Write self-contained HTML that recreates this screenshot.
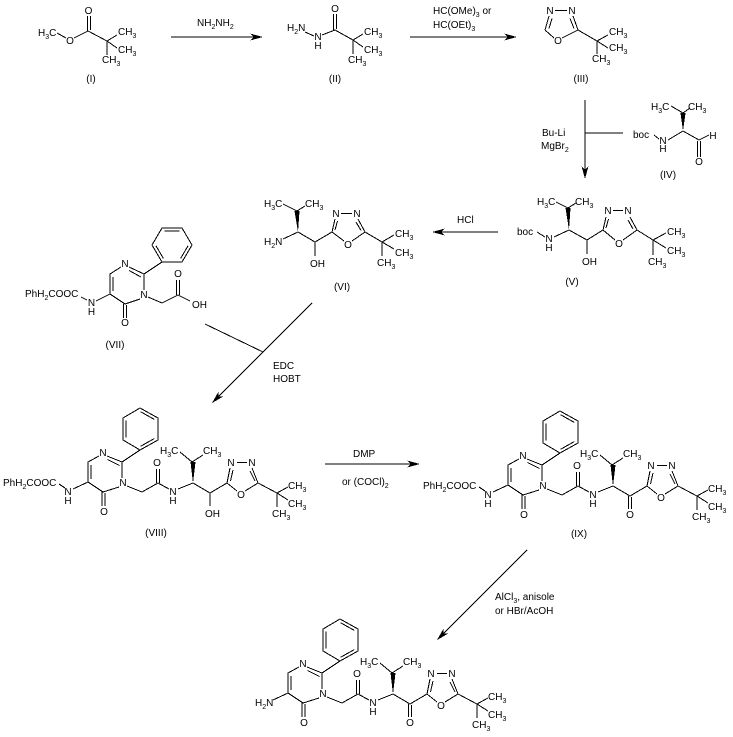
<!DOCTYPE html>
<html><head><meta charset="utf-8">
<style>
html,body{margin:0;padding:0;background:#fff;width:733px;height:737px;overflow:hidden;}
svg{display:block;}
svg path, svg polygon{shape-rendering:crispEdges;}
text{font-family:"Liberation Sans",Arial,sans-serif;font-size:10px;fill:#000;}
.m{text-anchor:middle;}
.e{text-anchor:end;}
.s{font-size:7px;}
</style></head><body>
<svg width="733" height="737" viewBox="0 0 733 737" xmlns="http://www.w3.org/2000/svg">

<!-- ===== Compound I ===== -->
<g fill="none" stroke="#000" stroke-width="1">
<path d="M57,33 L66,38 M74,38 L88,31 L107,41 L117,35 M107,41 L117,48 M107,41 L107,55 M87.5,31 L87.5,16 M90.5,30 L90.5,16"/>
</g>
<text x="38" y="36">H<tspan class="s" dy="3">3</tspan><tspan dy="-3">C</tspan></text>
<text x="70" y="44" class="m">O</text>
<text x="88.5" y="14" class="m">O</text>
<text x="118" y="35">CH<tspan class="s" dy="3">3</tspan></text>
<text x="118" y="53">CH<tspan class="s" dy="3">3</tspan></text>
<text x="102" y="63">CH<tspan class="s" dy="3">3</tspan></text>
<text x="91" y="82" class="m">(I)</text>

<!-- Arrow 1 -->
<path d="M171,37 L255,37" stroke="#000" fill="none"/>
<path d="M0,0 L-13,-3.5 L-9,0 L-13,3.5 Z" transform="translate(263,37)"/>
<text x="197" y="26">NH<tspan class="s" dy="3">2</tspan><tspan dy="-3">NH</tspan><tspan class="s" dy="3">2</tspan></text>

<!-- ===== Compound II ===== -->
<g fill="none" stroke="#000" stroke-width="1">
<path d="M305,32 L314,36 M322,35 L335,30 L353,40 L363,34 M353,40 L363,47 M353,40 L353,54 M333.5,30 L333.5,14 M336.5,29 L336.5,14"/>
</g>
<text x="287" y="31">H<tspan class="s" dy="3">2</tspan><tspan dy="-3">N</tspan></text>
<text x="318" y="40" class="m">N</text>
<text x="318" y="49" class="m">H</text>
<text x="335" y="12" class="m">O</text>
<text x="364" y="35">CH<tspan class="s" dy="3">3</tspan></text>
<text x="364" y="53">CH<tspan class="s" dy="3">3</tspan></text>
<text x="348" y="63">CH<tspan class="s" dy="3">3</tspan></text>
<text x="335" y="82" class="m">(II)</text>

<!-- Arrow 2 -->
<path d="M410,37 L509,37" stroke="#000" fill="none"/>
<path d="M0,0 L-13,-3.5 L-9,0 L-13,3.5 Z" transform="translate(517,37)"/>
<text x="433" y="14">HC(OMe)<tspan class="s" dy="3">3</tspan><tspan dy="-3"> or</tspan></text>
<text x="433" y="28">HC(OEt)<tspan class="s" dy="3">3</tspan></text>

<!-- ===== Compound III ===== -->
<g fill="none" stroke="#000" stroke-width="1">
<path d="M555,10.5 L567,10.5 M549,16 L545,30 M552,18.5 L549,28.5 M573,16 L578,30 M570,18.5 L574,28.5 M545,30 L554,38 M562,38 L578,30 L597,41 L608,35 M597,41 L608,48 M597,41 L597,54"/>
</g>
<text x="550" y="14" class="m">N</text>
<text x="572" y="14" class="m">N</text>
<text x="558" y="44" class="m">O</text>
<text x="609" y="35">CH<tspan class="s" dy="3">3</tspan></text>
<text x="609" y="51">CH<tspan class="s" dy="3">3</tspan></text>
<text x="592" y="62">CH<tspan class="s" dy="3">3</tspan></text>
<text x="581" y="82" class="m">(III)</text>

<!-- Vertical arrow III -> V -->
<path d="M585,100 L585,171 M585,133 L623,133" stroke="#000" fill="none"/>
<path d="M0,0 L-13,-3.5 L-9,0 L-13,3.5 Z" transform="translate(585,179) rotate(90)"/>
<text x="542" y="136">Bu-Li</text>
<text x="541" y="149">MgBr<tspan class="s" dy="3">2</tspan></text>

<!-- ===== Compound IV ===== -->
<g fill="none" stroke="#000" stroke-width="1">
<path d="M671,106 L683,113 L690,108 M654,135 L659,139 M668,140 L683,131 L699,140 L709,135 M697.5,141 L697.5,157 M700.5,141 L700.5,157"/>
</g>
<polygon points="680.5,113 685.5,113 683,131" fill="#000"/>
<text x="651" y="110">H<tspan class="s" dy="3">3</tspan><tspan dy="-3">C</tspan></text>
<text x="688" y="110">CH<tspan class="s" dy="3">3</tspan></text>
<text x="633" y="138">boc</text>
<text x="663" y="144" class="m">N</text>
<text x="663" y="152" class="m">H</text>
<text x="713" y="139" class="m">H</text>
<text x="699" y="165" class="m">O</text>
<text x="668" y="178" class="m">(IV)</text>

<!-- ===== Compound V ===== -->
<g fill="none" stroke="#000" stroke-width="1">
<path d="M556,202 L568,208 L576,203 M537,232 L545,237 M554,237 L569,230 L587,240 L603,230 L606,217 M587,240 L587,254 M606,228 L608.5,219 M613,210.5 L623,210.5 M630,217 L637,230 M628,220 L633,229 M603,230 L615,240 M623,240 L637,230 L653,240 L666,233 M653,240 L666,248 M653,240 L653,255"/>
</g>
<polygon points="565.5,208 570.5,208 569,230" fill="#000"/>
<text x="537" y="205">H<tspan class="s" dy="3">3</tspan><tspan dy="-3">C</tspan></text>
<text x="575" y="205">CH<tspan class="s" dy="3">3</tspan></text>
<text x="517" y="235">boc</text>
<text x="549" y="242" class="m">N</text>
<text x="549" y="251" class="m">H</text>
<text x="582" y="265">OH</text>
<text x="608" y="214" class="m">N</text>
<text x="628" y="214" class="m">N</text>
<text x="619" y="247" class="m">O</text>
<text x="667" y="235">CH<tspan class="s" dy="3">3</tspan></text>
<text x="667" y="254">CH<tspan class="s" dy="3">3</tspan></text>
<text x="648" y="265">CH<tspan class="s" dy="3">3</tspan></text>
<text x="572" y="285" class="m">(V)</text>

<!-- HCl arrow -->
<path d="M498,232 L440,232" stroke="#000" fill="none"/>
<path d="M0,0 L-13,-3.5 L-9,0 L-13,3.5 Z" transform="translate(432,232) rotate(180)"/>
<text x="457" y="223">HCl</text>

<!-- ===== Compound VI ===== -->
<g fill="none" stroke="#000" stroke-width="1">
<path d="M283,204 L297,211 L305,206 M283,239 L298,232 L315,242 L332,232 L335,219 M315,242 L315,256 M335,230 L337.5,221 M341,213.5 L352,213.5 M358,219 L365,232 M356,222 L361,230.5 M332,232 L344,241 M352,241 L365,232 L382,242 L394,235 M382,242 L394,249 M382,242 L382,256"/>
</g>
<polygon points="294.5,211 299.5,211 298,232" fill="#000"/>
<text x="264" y="207">H<tspan class="s" dy="3">3</tspan><tspan dy="-3">C</tspan></text>
<text x="305" y="207">CH<tspan class="s" dy="3">3</tspan></text>
<text x="264" y="245">H<tspan class="s" dy="3">2</tspan><tspan dy="-3">N</tspan></text>
<text x="310" y="267">OH</text>
<text x="336" y="217" class="m">N</text>
<text x="357" y="217" class="m">N</text>
<text x="348" y="248" class="m">O</text>
<text x="395" y="237">CH<tspan class="s" dy="3">3</tspan></text>
<text x="395" y="256">CH<tspan class="s" dy="3">3</tspan></text>
<text x="377" y="266">CH<tspan class="s" dy="3">3</tspan></text>
<text x="342" y="290" class="m">(VI)</text>

<!-- ===== Compound VII ===== -->
<g fill="none" stroke="#000" stroke-width="1">
<path d="M81,297 L87,300 M96,301 L110,294 L110,274 L121,267 M129,267 L144,274 L144,290 M140,299 L125,304 L110,294 M113,291 L113,277 M129,270.5 L141,277 M123.5,304 L123.5,318 M126.5,305 L126.5,318 M144,274 L162,262 M148,297 L162,303 L178,295 L190,301 M176.5,295 L176.5,280 M179.5,295 L179.5,280 M163.3,258.3 L155.9,245.7 M164.5,231 L179.5,231 M188.1,245.7 L180.7,258.3"/>
<polygon points="162,262 152,245 162,228 182,228 192,245 182,262"/>
</g>
<text x="25" y="297">PhH<tspan class="s" dy="3">2</tspan><tspan dy="-3">COOC</tspan></text>
<text x="91.5" y="306" class="m">N</text>
<text x="91.5" y="315" class="m">H</text>
<text x="125" y="267" class="m">N</text>
<text x="144" y="298" class="m">N</text>
<text x="125" y="326" class="m">O</text>
<text x="178" y="277" class="m">O</text>
<text x="192" y="308">OH</text>
<text x="115" y="348" class="m">(VII)</text>

<!-- EDC arrow -->
<path d="M312,303 L218,397 M205,324 L263,352" stroke="#000" fill="none"/>
<path d="M0,0 L-13,-3.5 L-9,0 L-13,3.5 Z" transform="translate(212,403) rotate(135)"/>
<text x="273" y="369">EDC</text>
<text x="273" y="382">HOBT</text>

<!-- ===== Compound VIII ===== -->
<g>
<g fill="none" stroke="#000" stroke-width="1">
<path d="M73,489 L88,482 L88,462 L99,456 M107,456 L122,462 L122,478 M119,487 L103,492 L88,482 M91,479 L91,465 M107.5,459.5 L119.5,465.5 M102,492 L102,506 M105,493 L105,506 M122,462 L140,450 M127,486 L142,492 L158,483 L169,489 M156.5,483 L156.5,469 M159.5,483 L159.5,469 M178,489 L193,483 M180,452 L192,462 L203,455 M193,483 L210,493 L227,483 L230,468 M230.5,481 L233,470 M237,462.5 L247,462.5 M252,468 L258,483 M250,471 L255,481 M227,483 L237,491 M245,491 L258,483 L277,493 L288,487 M277,493 L288,500 M277,493 L277,507 M140.7,411.8 L154.3,419.4 M154.3,438.6 L140.7,446.2 M126,437.5 L126,420.5"/>
<polygon points="123,418 140,408 158,418 158,440 140,450 123,440"/>
<path d="M59,484 L65,488 M210,493 L210,506"/>
</g>
<polygon points="190.5,462 195.5,462 193,483" fill="#000"/>
<text x="103" y="456" class="m">N</text>
<text x="123" y="486" class="m">N</text>
<text x="104" y="515" class="m">O</text>
<text x="157" y="466" class="m">O</text>
<text x="173" y="495" class="m">N</text>
<text x="173" y="504" class="m">H</text>
<text x="160" y="454">H<tspan class="s" dy="3">3</tspan><tspan dy="-3">C</tspan></text>
<text x="203" y="454">CH<tspan class="s" dy="3">3</tspan></text>
<text x="231" y="466" class="m">N</text>
<text x="252" y="466" class="m">N</text>
<text x="241" y="498" class="m">O</text>
<text x="288" y="489">CH<tspan class="s" dy="3">3</tspan></text>
<text x="288" y="507">CH<tspan class="s" dy="3">3</tspan></text>
<text x="272" y="517">CH<tspan class="s" dy="3">3</tspan></text>
<text x="3" y="486">PhH<tspan class="s" dy="3">2</tspan><tspan dy="-3">COOC</tspan></text>
<text x="68" y="495" class="m">N</text>
<text x="68" y="504" class="m">H</text>
<text x="205" y="517">OH</text>
<text x="156" y="536" class="m">(VIII)</text>
</g>

<!-- DMP arrow -->
<path d="M325,464 L412,464" stroke="#000" fill="none"/>
<path d="M0,0 L-13,-3.5 L-9,0 L-13,3.5 Z" transform="translate(420,464)"/>
<text x="353" y="457">DMP</text>
<text x="342" y="485">or (COCl)<tspan class="s" dy="3">2</tspan></text>

<!-- ===== Compound IX ===== -->
<g transform="translate(420,3)">
<g fill="none" stroke="#000" stroke-width="1">
<path d="M73,489 L88,482 L88,462 L99,456 M107,456 L122,462 L122,478 M119,487 L103,492 L88,482 M91,479 L91,465 M107.5,459.5 L119.5,465.5 M102,492 L102,506 M105,493 L105,506 M122,462 L140,450 M127,486 L142,492 L158,483 L169,489 M156.5,483 L156.5,469 M159.5,483 L159.5,469 M178,489 L193,483 M180,452 L192,462 L203,455 M193,483 L210,493 L227,483 L230,468 M230.5,481 L233,470 M237,462.5 L247,462.5 M252,468 L258,483 M250,471 L255,481 M227,483 L237,491 M245,491 L258,483 L277,493 L288,487 M277,493 L288,500 M277,493 L277,507 M140.7,411.8 L154.3,419.4 M154.3,438.6 L140.7,446.2 M126,437.5 L126,420.5"/>
<polygon points="123,418 140,408 158,418 158,440 140,450 123,440"/>
<path d="M59,484 L65,488 M208.5,493 L208.5,506 M211.5,494 L211.5,506"/>
</g>
<polygon points="190.5,462 195.5,462 193,483" fill="#000"/>
<text x="103" y="456" class="m">N</text>
<text x="123" y="486" class="m">N</text>
<text x="104" y="515" class="m">O</text>
<text x="157" y="466" class="m">O</text>
<text x="173" y="495" class="m">N</text>
<text x="173" y="504" class="m">H</text>
<text x="160" y="454">H<tspan class="s" dy="3">3</tspan><tspan dy="-3">C</tspan></text>
<text x="203" y="454">CH<tspan class="s" dy="3">3</tspan></text>
<text x="231" y="466" class="m">N</text>
<text x="252" y="466" class="m">N</text>
<text x="241" y="498" class="m">O</text>
<text x="288" y="489">CH<tspan class="s" dy="3">3</tspan></text>
<text x="288" y="507">CH<tspan class="s" dy="3">3</tspan></text>
<text x="272" y="517">CH<tspan class="s" dy="3">3</tspan></text>
<text x="3" y="486">PhH<tspan class="s" dy="3">2</tspan><tspan dy="-3">COOC</tspan></text>
<text x="68" y="495" class="m">N</text>
<text x="68" y="504" class="m">H</text>
<text x="210" y="515" class="m">O</text>
<text x="159" y="534" class="m">(IX)</text>
</g>

<!-- Final arrow -->
<path d="M527,550 L443,634" stroke="#000" fill="none"/>
<path d="M0,0 L-13,-3.5 L-9,0 L-13,3.5 Z" transform="translate(437,640) rotate(135)"/>
<text x="495" y="600">AlCl<tspan class="s" dy="3">3</tspan><tspan dy="-3">, anisole</tspan></text>
<text x="495" y="614">or HBr/AcOH</text>

<!-- ===== Final compound ===== -->
<g transform="translate(200,211)">
<g fill="none" stroke="#000" stroke-width="1">
<path d="M73,489 L88,482 L88,462 L99,456 M107,456 L122,462 L122,478 M119,487 L103,492 L88,482 M91,479 L91,465 M107.5,459.5 L119.5,465.5 M102,492 L102,506 M105,493 L105,506 M122,462 L140,450 M127,486 L142,492 L158,483 L169,489 M156.5,483 L156.5,469 M159.5,483 L159.5,469 M178,489 L193,483 M180,452 L192,462 L203,455 M193,483 L210,493 L227,483 L230,468 M230.5,481 L233,470 M237,462.5 L247,462.5 M252,468 L258,483 M250,471 L255,481 M227,483 L237,491 M245,491 L258,483 L277,493 L288,487 M277,493 L288,500 M277,493 L277,507 M140.7,411.8 L154.3,419.4 M154.3,438.6 L140.7,446.2 M126,437.5 L126,420.5"/>
<polygon points="123,418 140,408 158,418 158,440 140,450 123,440"/>
<path d="M208.5,493 L208.5,506 M211.5,494 L211.5,506"/>
</g>
<polygon points="190.5,462 195.5,462 193,483" fill="#000"/>
<text x="103" y="456" class="m">N</text>
<text x="123" y="486" class="m">N</text>
<text x="104" y="515" class="m">O</text>
<text x="157" y="466" class="m">O</text>
<text x="173" y="495" class="m">N</text>
<text x="173" y="504" class="m">H</text>
<text x="160" y="454">H<tspan class="s" dy="3">3</tspan><tspan dy="-3">C</tspan></text>
<text x="203" y="454">CH<tspan class="s" dy="3">3</tspan></text>
<text x="231" y="466" class="m">N</text>
<text x="252" y="466" class="m">N</text>
<text x="241" y="498" class="m">O</text>
<text x="288" y="489">CH<tspan class="s" dy="3">3</tspan></text>
<text x="288" y="507">CH<tspan class="s" dy="3">3</tspan></text>
<text x="272" y="517">CH<tspan class="s" dy="3">3</tspan></text>
<text x="55" y="495">H<tspan class="s" dy="3">2</tspan><tspan dy="-3">N</tspan></text>
<text x="210" y="515" class="m">O</text>
</g>

</svg>
</body></html>
